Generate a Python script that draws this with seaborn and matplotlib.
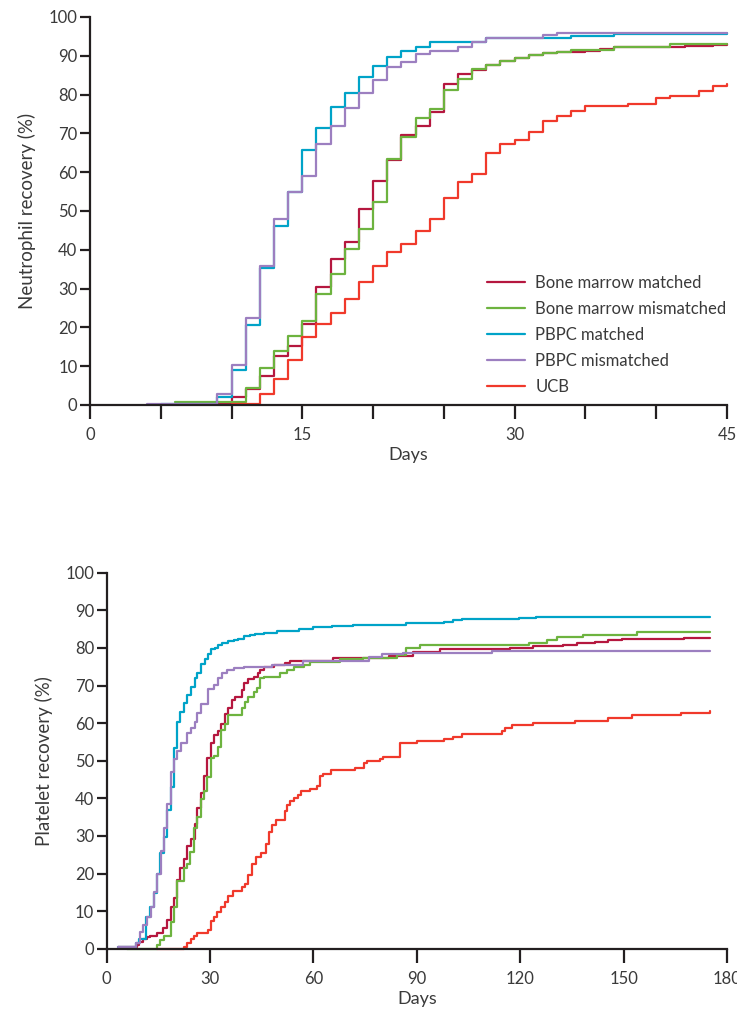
import pandas as pd
import matplotlib.pyplot as plt
import seaborn as sns

# ==========================================
# Data
# ==========================================

group_names = ["Bone marrow matched", "Bone marrow mismatched",
               "PBPC matched", "PBPC mismatched", "UCB"]
group_colors = ["#b5173f", "#6db33f", "#00a3c8", "#9c7fc0", "#f0392b"]

# Neutrophil recovery, days 0-45
neut_bm_match_days = [9, 10, 11, 12, 13, 14, 15, 16, 17, 18, 19, 20, 21, 22, 23, 24, 25,
                      26, 27, 28, 29, 30, 31, 32, 33, 35, 36, 37, 42, 44, 45]
neut_bm_match_vals = [0.5, 2.0, 4.1, 7.4, 12.7, 15.3, 20.8, 30.3, 37.6, 41.9, 50.4, 57.7,
                      63.1, 69.5, 72.0, 75.5, 82.8, 85.2, 86.3, 87.5, 88.6, 89.5, 90.3,
                      90.7, 90.9, 91.2, 91.8, 92.2, 92.5, 92.7, 93.0]

neut_bm_mis_days = [6, 11, 12, 13, 14, 15, 16, 17, 18, 19, 20, 21, 22, 23, 24, 25, 26,
                    27, 28, 29, 30, 31, 32, 33, 34, 37, 41, 45]
neut_bm_mis_vals = [0.7, 4.5, 9.6, 13.8, 17.8, 21.7, 28.7, 33.7, 40.3, 45.3, 52.4, 63.5,
                    69.0, 74.0, 76.2, 81.1, 84.0, 86.6, 87.5, 88.6, 89.5, 90.3, 90.7,
                    91.0, 91.6, 92.2, 93.0, 93.1]

neut_pb_match_days = [5, 9, 10, 11, 12, 13, 14, 15, 16, 17, 18, 19, 20, 21, 22, 23, 24,
                      28, 34, 37, 45]
neut_pb_match_vals = [0.3, 2.0, 9.0, 20.7, 35.2, 46.1, 55.0, 65.6, 71.4, 76.8, 80.4, 84.6,
                      87.3, 89.7, 91.2, 92.3, 93.5, 94.7, 95.0, 95.6, 95.8]

neut_pb_mis_days = [4, 9, 10, 11, 12, 13, 14, 15, 16, 17, 18, 19, 20, 21, 22, 23, 24,
                    26, 27, 28, 32, 33, 45]
neut_pb_mis_vals = [0.3, 2.8, 10.4, 22.5, 35.8, 48.0, 55.0, 59.0, 67.2, 71.9, 76.5, 80.4,
                    83.7, 87.0, 88.4, 90.4, 91.2, 92.3, 93.5, 94.7, 95.3, 95.8, 95.8]

neut_ucb_days = [10, 12, 13, 14, 15, 16, 17, 18, 19, 20, 21, 22, 23, 24, 25, 26, 27, 28,
                 29, 30, 31, 32, 33, 34, 35, 38, 40, 41, 43, 44, 45]
neut_ucb_vals = [0.2, 2.8, 6.7, 11.6, 17.4, 20.8, 23.7, 27.3, 31.7, 35.8, 39.3, 41.4,
                 44.9, 47.9, 53.4, 57.5, 59.4, 65.0, 67.2, 68.3, 70.4, 73.1, 74.4, 75.7,
                 77.0, 77.6, 79.0, 79.6, 81.0, 82.2, 82.6]

# Platelet recovery, days 0-180
plt_bm_match_days = [3.4, 8.7, 9.5, 10.6, 11.6, 12.6, 14.5, 16.3, 17.4, 18.6, 19.4, 20.5,
                     21.3, 22.3, 23.2, 24.4, 25.5, 26.3, 27.3, 28.3, 29.2, 30.2, 31.2,
                     32.2, 33.1, 34.4, 35.3, 36.3, 37.3, 39.2, 39.9, 41.1, 42.6, 43.8,
                     44.5, 45.7, 48.4, 51.8, 53.2, 65.8, 81.8, 89.0, 96.7, 117.0, 123.8,
                     132.5, 136.4, 141.7, 145.6, 149.5, 167.4, 175.0]
plt_bm_match_vals = [0.5, 1.0, 1.9, 2.7, 3.2, 3.5, 4.1, 5.4, 7.6, 11.2, 13.4, 18.3, 21.6,
                     23.8, 27.3, 29.1, 33.3, 37.3, 41.3, 45.9, 50.6, 54.8, 56.8, 57.9,
                     59.9, 62.4, 63.9, 66.1, 67.0, 68.8, 70.6, 71.7, 72.2, 73.2, 74.1,
                     74.8, 75.4, 76.1, 76.6, 77.2, 77.9, 79.0, 79.6, 80.1, 80.5, 80.9,
                     81.3, 81.6, 82.0, 82.3, 82.6, 82.6]

plt_bm_mis_days = [6.0, 14.5, 15.5, 16.7, 18.6, 19.4, 20.5, 22.3, 23.2, 24.2, 25.4, 26.3,
                   27.3, 28.3, 29.2, 30.2, 31.2, 32.4, 33.1, 34.4, 35.3, 39.2, 40.2,
                   41.1, 42.6, 43.6, 44.5, 45.5, 50.3, 52.3, 54.2, 57.1, 59.0, 67.8,
                   74.5, 84.2, 86.8, 90.9, 122.4, 127.7, 130.6, 138.3, 153.8, 175.0]
plt_bm_mis_vals = [0.0, 1.0, 2.3, 3.4, 7.0, 11.2, 18.1, 21.4, 22.5, 25.8, 32.0, 35.1,
                   39.7, 42.0, 45.7, 50.6, 51.2, 53.7, 58.2, 59.9, 62.1, 63.9, 65.7,
                   67.0, 68.2, 69.4, 71.9, 72.3, 73.2, 74.1, 74.8, 75.4, 76.3, 77.0,
                   77.2, 78.1, 79.9, 80.8, 81.4, 82.1, 83.0, 83.4, 84.3, 84.3]

plt_pb_match_days = [3.4, 8.5, 9.5, 11.4, 12.6, 13.6, 14.5, 15.5, 16.5, 17.6, 18.6, 19.4,
                     20.5, 21.3, 22.5, 23.2, 24.4, 25.5, 26.3, 27.4, 28.4, 29.3, 30.3,
                     31.5, 32.4, 33.4, 35.3, 36.8, 38.2, 39.9, 41.6, 43.1, 45.5, 49.4,
                     55.7, 60.0, 65.3, 71.6, 86.8, 98.0, 100.6, 103.0, 119.5, 124.6,
                     135.9, 175.0]
plt_pb_match_vals = [0.5, 1.4, 2.7, 8.5, 11.2, 14.7, 20.0, 25.4, 29.8, 36.9, 43.1, 53.3,
                     60.2, 63.0, 65.4, 67.5, 69.5, 71.9, 73.2, 75.7, 77.1, 78.4, 79.6,
                     80.1, 80.8, 81.4, 81.8, 82.1, 82.5, 83.2, 83.4, 83.7, 84.1, 84.5,
                     84.9, 85.5, 85.8, 86.2, 86.7, 87.0, 87.3, 87.6, 87.9, 88.1, 88.3,
                     88.3]

plt_pb_mis_days = [3.4, 8.5, 9.7, 10.6, 11.6, 12.8, 13.7, 14.7, 15.7, 16.7, 17.6, 18.6,
                   19.6, 20.5, 21.5, 23.2, 24.4, 25.7, 26.3, 27.3, 29.3, 31.2, 32.4,
                   33.4, 35.0, 36.9, 39.7, 47.9, 57.0, 76.0, 80.0, 86.0, 111.7, 175.0]
plt_pb_mis_vals = [0.4, 1.4, 4.5, 6.3, 8.5, 11.2, 15.2, 20.0, 26.1, 32.0, 38.5, 46.9,
                   50.4, 52.6, 54.8, 57.3, 58.6, 60.4, 62.8, 65.2, 69.2, 70.1, 71.9,
                   73.2, 74.1, 74.6, 75.0, 75.4, 76.5, 77.5, 78.3, 78.7, 79.3, 79.3]

plt_ucb_days = [14.5, 22.3, 23.2, 24.4, 25.4, 26.3, 29.5, 30.2, 31.2, 32.1, 33.1, 34.4,
                35.3, 36.6, 39.2, 40.2, 41.1, 42.1, 43.3, 44.7, 46.2, 47.1, 48.1, 49.1,
                51.6, 52.3, 53.2, 54.2, 55.4, 56.3, 59.0, 61.0, 62.0, 62.9, 65.1, 72.1,
                74.7, 75.5, 79.4, 80.2, 85.2, 90.0, 98.0, 100.6, 103.0, 114.6, 115.6,
                117.5, 123.8, 135.9, 145.6, 152.4, 166.7, 175.0]
plt_ucb_vals = [0.0, 0.5, 1.6, 2.7, 3.4, 4.3, 5.0, 7.4, 8.5, 9.8, 11.2, 12.5, 14.0, 15.4,
                16.3, 17.2, 19.6, 22.5, 24.5, 25.5, 27.8, 31.1, 32.9, 34.2, 36.7, 38.2,
                39.4, 40.2, 40.9, 42.0, 42.5, 43.3, 46.0, 46.6, 47.5, 48.0, 49.3, 50.0,
                50.4, 51.1, 54.6, 55.3, 55.7, 56.2, 57.1, 58.0, 58.8, 59.5, 60.1, 60.6,
                61.3, 62.1, 62.6, 63.2]

neut_series = [(neut_bm_match_days, neut_bm_match_vals),
               (neut_bm_mis_days, neut_bm_mis_vals),
               (neut_pb_match_days, neut_pb_match_vals),
               (neut_pb_mis_days, neut_pb_mis_vals),
               (neut_ucb_days, neut_ucb_vals)]
plt_series = [(plt_bm_match_days, plt_bm_match_vals),
              (plt_bm_mis_days, plt_bm_mis_vals),
              (plt_pb_match_days, plt_pb_match_vals),
              (plt_pb_mis_days, plt_pb_mis_vals),
              (plt_ucb_days, plt_ucb_vals)]

# ==========================================
# Style
# ==========================================

sns.set_style("ticks")
plt.rcParams["font.family"] = ["Lato", "DejaVu Sans"]
axis_color = "#231f20"
text_color = "#3a3a3a"

fig = plt.figure(figsize=(7.37, 10.16), dpi=100)
ax1 = fig.add_axes([0.1221, 0.6014, 0.8643, 0.3819])
ax2 = fig.add_axes([0.1448, 0.0662, 0.8417, 0.3701])


def draw_panel(ax, series, xmax, xticks, ylabel):
    for (days, vals), name, color in zip(series, group_names, group_colors):
        df = pd.DataFrame({"day": days, "value": vals})
        sns.lineplot(data=df, x="day", y="value", color=color, label=name,
                     drawstyle="steps-post", estimator=None, linewidth=1.6, ax=ax)
    ax.set_xlim(0, xmax)
    ax.set_ylim(0, 100)
    ax.set_xticks(xticks)
    ax.set_yticks(range(0, 101, 10))
    ax.set_xlabel("Days", fontsize=13, color=text_color, labelpad=3)
    ax.set_ylabel(ylabel, fontsize=13.5, color=text_color, labelpad=9)
    sns.despine(ax=ax)
    for side in ["left", "bottom"]:
        ax.spines[side].set_linewidth(1.6)
        ax.spines[side].set_color(axis_color)
    ax.tick_params(axis="y", length=7, width=1.6, color=axis_color,
                   labelsize=12, labelcolor=text_color, pad=2)
    ax.tick_params(axis="x", length=10, width=1.6, color=axis_color,
                   labelsize=12, labelcolor=text_color, pad=6)
    for line in ax.get_lines():
        line.set_clip_on(False)


# Neutrophil panel
draw_panel(ax1, neut_series, 45, range(0, 46, 5), "Neutrophil recovery (%)")
ax1.set_xticklabels(["0", "", "", "15", "", "", "30", "", "", "45"])
ax1.legend(loc="center left", bbox_to_anchor=(0.623, 0.18), frameon=False,
           fontsize=12, handlelength=2.3, handletextpad=0.6, labelspacing=0.6,
           borderpad=0, borderaxespad=0, labelcolor=text_color)

# Platelet panel
draw_panel(ax2, plt_series, 180, range(0, 181, 30), "Platelet recovery (%)")
ax2.get_legend().remove()

plt.savefig("out.png", dpi=100)
plt.close()
